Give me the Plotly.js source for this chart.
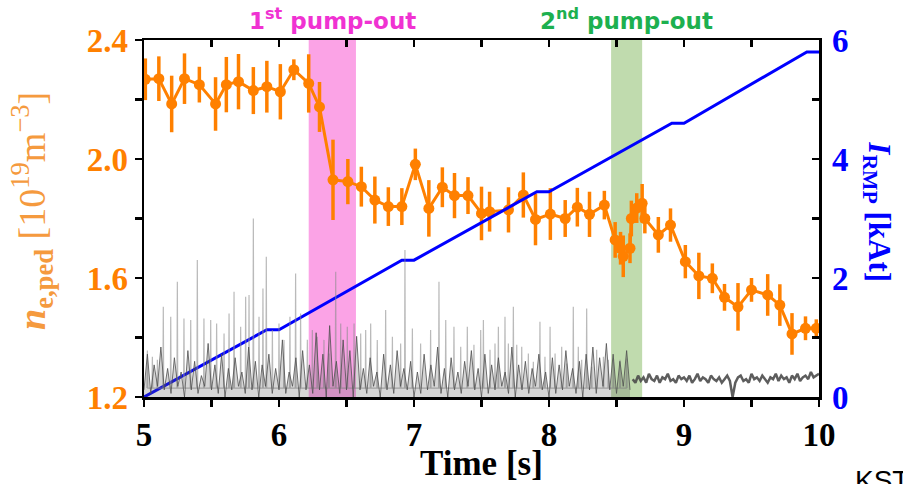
<!DOCTYPE html>
<html>
<head>
<meta charset="utf-8">
<script src="https://cdn.plot.ly/plotly-3.0.1.min.js"></script>
<style>html,body{margin:0;padding:0;background:#fff;overflow:hidden}#chart{width:903px;height:484px}</style>
</head>
<body>
<div id="chart"></div>
<script>
// ---- data ----
// pedestal density n_e,ped [1e19 m^-3]
const neT = [5.01,5.11,5.205,5.30,5.41,5.53,5.61,5.70,5.81,5.91,6.01,6.11,6.22,6.30,6.40,6.51,6.61,6.71,6.81,6.91,7.01,7.11,7.21,7.30,7.40,7.50,7.56,7.70,7.81,7.90,8.01,8.12,8.21,8.30,8.41,8.49,8.53,8.55,8.60,8.61,8.65,8.69,8.71,8.81,8.90,9.01,9.11,9.21,9.30,9.40,9.50,9.62,9.71,9.80,9.90,9.98];
const neV = [2.268,2.27,2.185,2.27,2.25,2.185,2.25,2.26,2.23,2.243,2.226,2.30,2.254,2.175,1.93,1.924,1.907,1.862,1.84,1.84,1.982,1.834,1.905,1.877,1.877,1.817,1.823,1.829,1.879,1.797,1.815,1.80,1.838,1.814,1.845,1.728,1.70,1.673,1.70,1.80,1.835,1.851,1.80,1.745,1.778,1.655,1.607,1.599,1.535,1.503,1.56,1.543,1.509,1.412,1.431,1.431];
const neErr = [0.07,0.075,0.095,0.085,0.06,0.09,0.093,0.093,0.079,0.087,0.093,0.035,0.098,0.084,0.135,0.076,0.067,0.079,0.065,0.062,0.053,0.095,0.067,0.076,0.062,0.09,0.067,0.076,0.076,0.087,0.087,0.062,0.065,0.076,0.048,0.06,0.055,0.07,0.05,0.06,0.05,0.065,0.05,0.06,0.056,0.056,0.078,0.05,0.045,0.08,0.04,0.07,0.07,0.07,0.04,0.03];

// RMP coil current [kAt]
const irmpT = [5.0,5.91,6.0,6.91,7.0,7.91,8.0,8.91,9.0,9.91,10.0];
const irmpV = [0,1.13,1.13,2.3,2.3,3.45,3.45,4.6,4.6,5.8,5.8];

// D-alpha (a.u.) ELM spikes: times and peak heights
const spikeT = [5.025,5.062,5.099,5.143,5.198,5.247,5.296,5.346,5.395,5.444,5.494,5.538,5.593,5.630,5.667,5.716,5.753,5.778,5.810,5.852,5.881,5.906,5.951,6.000,6.037,6.081,6.123,6.160,6.210,6.247,6.284,6.333,6.370,6.420,6.457,6.506,6.556,6.605,6.642,6.679,6.728,6.790,6.840,6.901,6.933,6.988,7.049,7.123,7.185,7.235,7.296,7.346,7.395,7.444,7.494,7.514,7.563,7.600,7.625,7.674,7.699,7.736,7.761,7.798,7.847,7.884,7.933,7.970,8.008,8.045,8.094,8.131,8.180,8.217,8.242,8.279,8.316,8.353,8.403,8.440,8.477,8.526,8.575];
const spikeV = [0.13,0.113,0.104,0.253,0.225,0.323,0.22,0.216,0.384,0.22,0.216,0.206,0.178,0.234,0.295,0.197,0.281,0.286,0.50,0.225,0.304,0.393,0.188,0.206,0.16,0.225,0.346,0.234,0.16,0.188,0.169,0.16,0.122,0.351,0.206,0.197,0.206,0.178,0.188,0.206,0.16,0.244,0.169,0.15,0.412,0.192,0.15,0.188,0.323,0.216,0.197,0.141,0.197,0.146,0.188,0.216,0.132,0.15,0.197,0.225,0.15,0.253,0.146,0.141,0.122,0.099,0.211,0.113,0.197,0.122,0.141,0.094,0.253,0.141,0.104,0.248,0.085,0.132,0.113,0.104,0.108,0.104,0.108];
// D-alpha dense background, ELMy phase (sampled every 0.025 s from 5.0 s)
const noiseA = [0.02,0.12,0.01,0.09,0.03,0.14,0.02,0.08,0.01,0.11,
0.03,0.07,0.00,0.13,0.02,0.10,0.01,0.06,0.03,0.15,
0.02,0.09,0.01,0.12,0.00,0.08,0.02,0.11,0.03,0.07,
0.01,0.14,0.02,0.10,0.00,0.09,0.03,0.12,0.01,0.08,
0.02,0.16,0.01,0.07,0.03,0.11,0.00,0.13,0.02,0.09,
0.01,0.18,0.02,0.12,0.00,0.20,0.03,0.10,0.01,0.16,0.02,0.13,0.00,0.17,
0.02,0.08,0.01,0.11,0.03,0.07,0.00,0.12,0.02,0.09,
0.01,0.13,0.03,0.08,0.02,0.10,0.00,0.07,0.01,0.12,
0.02,0.09,0.03,0.14,0.01,0.08,0.00,0.11,0.02,0.07,
0.01,0.10,0.03,0.13,0.02,0.08,0.00,0.12,0.01,0.09,
0.02,0.11,0.03,0.07,0.01,0.14,0.00,0.09,0.02,0.10,
0.01,0.08,0.03,0.12,0.02,0.07,0.00,0.11,0.01,0.09,
0.02,0.13,0.03,0.08,0.01,0.10,0.00,0.12,0.02,0.14,
0.01,0.11,0.03,0.15,0.02,0.12,0.01,0.10,0.03,0.13,0.02];
const noiseAStart = 5.0, noiseAStep = 0.025;
// D-alpha after ELM suppression (sampled every 0.02 s from 8.62 s)
const noiseB = [0.05,0.04,0.06,0.045,0.055,0.04,0.065,0.05,0.045,0.06,
0.04,0.055,0.05,0.065,0.045,0.05,0.04,0.06,0.05,0.055,
0.045,0.06,0.04,0.05,0.065,0.045,0.055,0.05,0.04,0.06,
0.05,0.045,0.055,0.04,0.05,0.06,0.045,0.0,0.04,0.055,
0.06,0.045,0.05,0.04,0.065,0.05,0.055,0.045,0.06,0.05,
0.04,0.055,0.05,0.065,0.045,0.06,0.05,0.055,0.04,0.06,
0.05,0.065,0.045,0.055,0.06,0.05,0.07,0.055,0.06,0.065];
const noiseBStart = 8.62, noiseBStep = 0.02;

// pump-out windows [s]
const pump1 = [6.22, 6.57];
const pump2 = [8.46, 8.69];

// tick labels
const xTickVals = [5,5.5,6,6.5,7,7.5,8,8.5,9,9.5,10];
const xTickText = ['5','','6','','7','','8','','9','','10'];
const yTickVals = [1.2,1.4,1.6,1.8,2.0,2.2,2.4];
const yTickText = ['1.2','','1.6','','2.0','','2.4'];
const y2TickVals = [0,1,2,3,4,5,6];
const y2TickText = ['0','','2','','4','','6'];

// ---- build traces ----
const spikeBase = 0.025, spikeHalf = 0.003;
const spX = [], spY = [];
for (let i = 0; i < Math.min(spikeT.length, spikeV.length); i++) {
  spX.push(spikeT[i]-spikeHalf, spikeT[i], spikeT[i]+spikeHalf);
  spY.push(spikeBase, spikeV[i], spikeBase);
}
const nAx = noiseA.map((v,i)=>noiseAStart + i*noiseAStep);
const nBx = noiseB.map((v,i)=>noiseBStart + i*noiseBStep);

const orange = '#FF8000';
const traces = [
  {x: spX, y: spY, yaxis: 'y3', mode: 'lines', line: {color: 'rgba(140,140,140,0.6)', width: 1.2}, hoverinfo: 'skip', showlegend: false},
  {x: nAx, y: noiseA, yaxis: 'y3', mode: 'lines', fill: 'tozeroy', fillcolor: 'rgba(90,90,90,0.25)', line: {color: 'rgba(80,80,80,0.8)', width: 1}, hoverinfo: 'skip', showlegend: false},
  {x: nBx, y: noiseB, yaxis: 'y3', mode: 'lines', line: {color: 'rgba(75,75,75,0.9)', width: 2.5}, hoverinfo: 'skip', showlegend: false},
  {x: irmpT, y: irmpV, yaxis: 'y2', mode: 'lines', line: {color: '#0000FF', width: 3}, showlegend: false},
  {x: neT, y: neV, mode: 'lines+markers', line: {color: orange, width: 3},
   marker: {color: orange, size: 11},
   error_y: {type: 'data', array: neErr, visible: true, color: orange, thickness: 3.5, width: 0},
   showlegend: false},
  {x: [], y: [], xaxis: 'x2', mode: 'lines', showlegend: false, hoverinfo: 'skip'}
];

const serif = 'Liberation Serif, Times New Roman, serif';
const layout = {
  width: 903, height: 484,
  margin: {l: 144, r: 84, t: 40, b: 87},
  paper_bgcolor: '#fff', plot_bgcolor: 'rgba(0,0,0,0)',
  showlegend: false,
  xaxis: {range: [5,10], tickvals: xTickVals, ticktext: xTickText, ticks: 'outside', ticklen: 7, tickwidth: 2.5, tickcolor: '#000',
          showline: true, linecolor: '#000', linewidth: 2.5, showgrid: false, zeroline: false,
          tickfont: {family: serif, size: 33, color: '#000', weight: 'bold'}},
  xaxis2: {range: [5,10], overlaying: 'x', side: 'top', anchor: 'y', tickvals: xTickVals, showticklabels: false, ticks: 'inside', ticklen: 7, tickwidth: 2.5, tickcolor: '#000',
          showline: true, linecolor: '#000', linewidth: 2.5, showgrid: false, zeroline: false},
  yaxis: {range: [1.2,2.4], tickvals: yTickVals, ticktext: yTickText, ticks: 'outside', ticklen: 7, tickwidth: 2.5, tickcolor: '#000',
          showline: true, linecolor: '#000', linewidth: 2.5, showgrid: false, zeroline: false,
          tickfont: {family: serif, size: 33, color: orange, weight: 'bold'}},
  yaxis2: {range: [0,6], overlaying: 'y', side: 'right', anchor: 'x', tickvals: y2TickVals, ticktext: y2TickText, ticks: 'inside', ticklen: 7, tickwidth: 2.5, tickcolor: '#000',
          showline: true, linecolor: '#000', linewidth: 2.5, showgrid: false, zeroline: false, ticklabelstandoff: 4,
          tickfont: {family: serif, size: 33, color: '#0000FF', weight: 'bold'}},
  yaxis3: {range: [0,1], overlaying: 'y', visible: false, fixedrange: true},
  shapes: [
    {type: 'rect', xref: 'x', yref: 'paper', x0: pump1[0], x1: pump1[1], y0: 0, y1: 1, fillcolor: '#FBA3E6', line: {width: 0}, layer: 'below'},
    {type: 'rect', xref: 'x', yref: 'paper', x0: pump2[0], x1: pump2[1], y0: 0, y1: 1, fillcolor: '#C0DBAE', line: {width: 0}, layer: 'below'}
  ],
  annotations: [
    {text: '<b>1<sup>st</sup> pump-out</b>', xref: 'x', yref: 'paper', x: (pump1[0]+pump1[1])/2, y: 1.06, xanchor: 'center', yanchor: 'middle', showarrow: false,
     font: {family: 'DejaVu Sans', size: 23, color: '#F032D2'}},
    {text: '<b>2<sup>nd</sup> pump-out</b>', xref: 'x', yref: 'paper', x: (pump2[0]+pump2[1])/2, y: 1.06, xanchor: 'center', yanchor: 'middle', showarrow: false,
     font: {family: 'DejaVu Sans', size: 23, color: '#1DB04F'}},
    {text: '<b>Time [s]</b>', xref: 'paper', yref: 'paper', x: 0.5, y: -0.185, xanchor: 'center', yanchor: 'middle', showarrow: false,
     font: {family: serif, size: 35, color: '#000'}},
    {text: '<b><i>n</i></b><sub><b>e,ped</b></sub> [10<sup>19</sup>m<sup>−3</sup>]', xref: 'paper', yref: 'paper', x: -0.165, y: 0.52, xanchor: 'center', yanchor: 'middle', textangle: -90, showarrow: false,
     font: {family: serif, size: 38, color: '#F59A3E'}},
    {text: '<b><i>I</i></b><sub><b>RMP</b></sub><b> [kAt]</b>', xref: 'paper', yref: 'paper', x: 1.086, y: 0.52, xanchor: 'center', yanchor: 'middle', textangle: 90, showarrow: false,
     font: {family: serif, size: 31, color: '#0000FF'}},
    {text: 'KSTAR', xref: 'paper', yref: 'paper', x: 1.05, y: -0.185, xanchor: 'left', yanchor: 'top', showarrow: false,
     font: {family: 'Liberation Sans, Arial, sans-serif', size: 28, color: '#000'}}
  ]
};
Plotly.newPlot('chart', traces, layout, {displayModeBar: false, staticPlot: true});
</script>
</body>
</html>
